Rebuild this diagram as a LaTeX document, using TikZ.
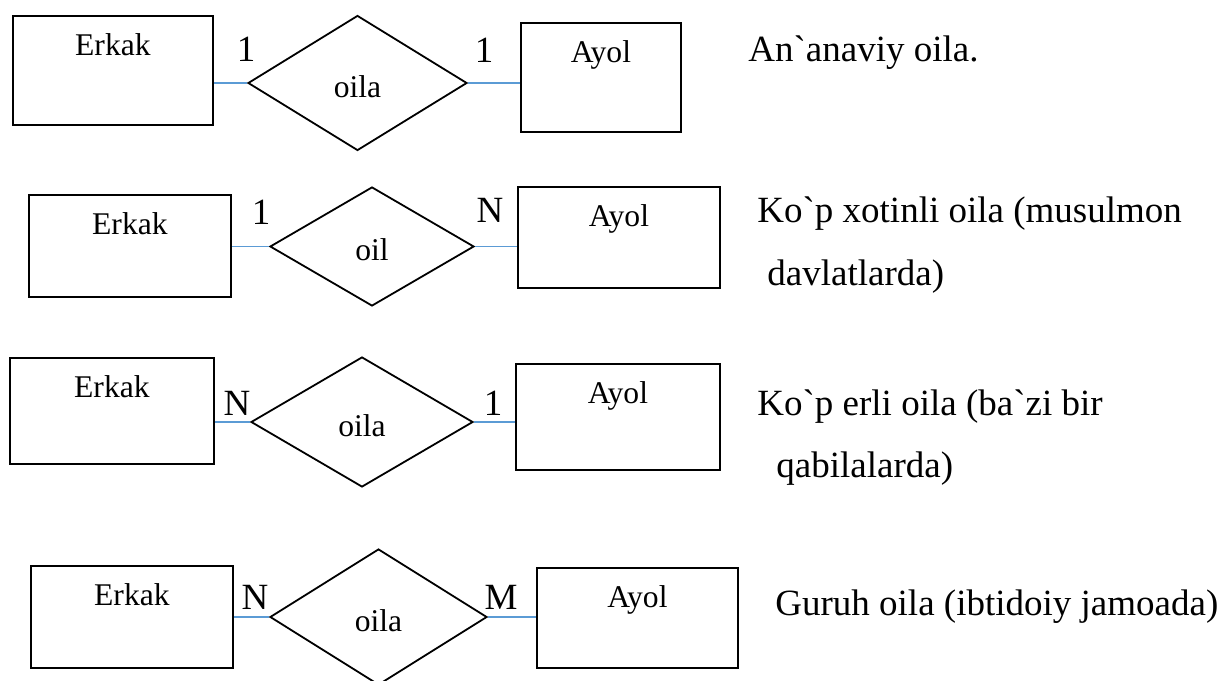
\documentclass[tikz,border=0pt]{standalone}
\usepackage{fontspec}
\usetikzlibrary{shapes.geometric}
\newfontfamily\timesfont{Liberation Serif}
\definecolor{linkblue}{HTML}{5B9BD5}

\begin{document}
\begin{tikzpicture}[x=0.5pt,y=-0.5pt,
                    entity node/.style={rectangle,draw,line width=0.9pt,inner sep=0pt,anchor=north west,
                      font=\timesfont\fontsize{15.8}{18}\selectfont,text height=20pt,text depth=#1},
                    relation node/.style={diamond,draw,line width=0.9pt,inner sep=0pt,
                      font=\timesfont\fontsize{15.8}{18}\selectfont,text height=16pt,text depth=2pt},
                    card node/.style={font=\timesfont\fontsize{18.5}{22}\selectfont,inner sep=0pt},
                    note node/.style={font=\timesfont\fontsize{18.5}{22}\selectfont,inner sep=0pt,anchor=base west},
                    link/.style={draw=linkblue,line width=0.7pt}
                   ]
  \useasboundingbox (0,0) rectangle (1220,680);

  % row 1
  \node[entity node=34.5pt,minimum width=100pt] (e1) at (12,15) {Erkak};
  \node[relation node,minimum width=109.5pt,minimum height=67.5pt] (r1) at (357.5,83) {oila};
  \node[entity node=34.5pt,minimum width=80pt] (a1) at (520,22) {Ayol};
  \node[card node] (c1l) at (246,49) {1};
  \node[card node] (c1r) at (484,50) {1};
  \node[note node] (n1) at (748,61) {An`anaviy oila.};

  % row 2
  \node[entity node=31pt,minimum width=101pt] (e2) at (28,194) {Erkak};
  \node[relation node,minimum width=102pt,minimum height=59.5pt] (r2) at (372,246.5) {oil};
  \node[entity node=30.5pt,minimum width=101pt] (a2) at (517,186) {Ayol};
  \node[card node] (c2l) at (261,212) {1};
  \node[card node] (c2r) at (490,210) {N};
  \node[note node] (n2a) at (757,222) {Ko`p xotinli oila (musulmon};
  \node[note node] (n2b) at (767,285) {davlatlarda)};

  % row 3
  \node[entity node=33pt,minimum width=102pt] (e3) at (9,357) {Erkak};
  \node[relation node,minimum width=111pt,minimum height=65pt] (r3) at (362,422) {oila};
  \node[entity node=33pt,minimum width=102pt] (a3) at (515,363) {Ayol};
  \node[card node] (c3l) at (237,403) {N};
  \node[card node] (c3r) at (493,403) {1};
  \node[note node] (n3a) at (757,415) {Ko`p erli oila (ba`zi bir};
  \node[note node] (n3b) at (776,477) {qabilalarda)};

  % row 4
  \node[entity node=31pt,minimum width=101pt] (e4) at (30,565) {Erkak};
  \node[relation node,minimum width=108.5pt,minimum height=68pt] (r4) at (378.5,617) {oila};
  \node[entity node=30pt,minimum width=100.5pt] (a4) at (536,567) {Ayol};
  \node[card node] (c4l) at (255,597) {N};
  \node[card node] (c4r) at (501,597) {M};
  \node[note node] (n4) at (775,615) {Guruh oila (ibtidoiy jamoada)};

  \path%
   (r1.west) edge [link] (r1.west -| e1.east)
   (r1.east) edge [link] (r1.east -| a1.west)
   (r2.west) edge [link] (r2.west -| e2.east)
   (r2.east) edge [link] (r2.east -| a2.west)
   (r3.west) edge [link] (r3.west -| e3.east)
   (r3.east) edge [link] (r3.east -| a3.west)
   (r4.west) edge [link] (r4.west -| e4.east)
   (r4.east) edge [link] (r4.east -| a4.west);
\end{tikzpicture}
\end{document}
